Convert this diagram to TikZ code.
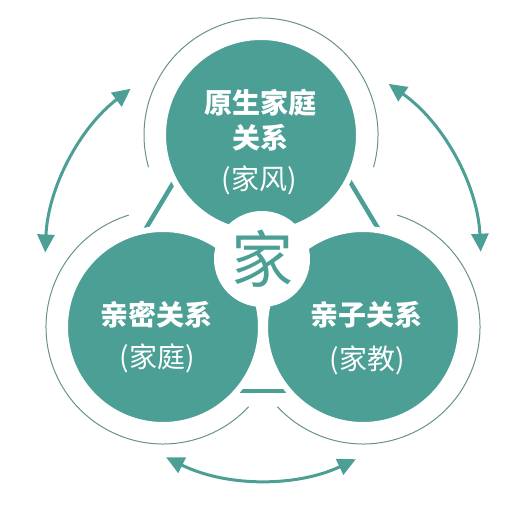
\documentclass[tikz,border=0pt]{standalone}
\usepackage{fontspec}
\newfontfamily\cjk{Noto Sans CJK SC}
\usetikzlibrary{arrows.meta,calc}
\definecolor{tealmain}{RGB}{76,159,149}
\definecolor{thinarc}{RGB}{105,145,140}
\begin{document}
\begin{tikzpicture}[x=1pt,y=1pt,
  disc/.style={circle, fill=tealmain, draw=white, line width=6pt, minimum size=196pt, inner sep=0pt},
  hub/.style={circle, fill=white, minimum size=96pt, inner sep=0pt},
  edge/.style={draw=tealmain, line width=4.5pt},
  halo/.style={draw=thinarc, line width=1pt},
  cyc/.style={draw=tealmain, line width=3pt, {Triangle[length=18pt,width=17pt]}-{Triangle[length=18pt,width=17pt]}},
  title/.style={text=white, font=\cjk\bfseries\fontsize{28}{30}\selectfont, inner sep=0pt},
  sub/.style={text=white, font=\cjk\fontsize{28}{30}\selectfont, inner sep=0pt},
  hubtext/.style={text=tealmain, font=\cjk\fontsize{62}{64}\selectfont, inner sep=0pt}
]
\useasboundingbox (0,0) rectangle (526,510);
% centres
\coordinate (T) at (261,375);
\coordinate (L) at (163,183);
\coordinate (R) at (363,183);
\coordinate (C) at (263,248);
% triangle edge ends (hidden inside the discs)
\coordinate (eTL) at (199,370);
\coordinate (eLT) at (97,200);
\coordinate (eTR) at (325,370);
\coordinate (eRT) at (427,200);
\coordinate (eLR) at (150,119);
\coordinate (eRL) at (374,119);
\draw[edge] (eTL) -- (eLT);
\draw[edge] (eTR) -- (eRT);
\draw[edge] (eLR) -- (eRL);
% thin halos
\draw[halo] ($(T)+(-16:117)$) arc[start angle=-16, end angle=196, radius=117];
\draw[halo] ($(L)+(107:117)$) arc[start angle=107, end angle=317, radius=117];
\draw[halo] ($(R)+(73:117)$) arc[start angle=73, end angle=-137, radius=117];
% double arrows
\coordinate (a1) at ($(C)+(127.4:218)$);
\coordinate (a2) at ($(C)+(54.8:218)$);
\coordinate (a3) at ($(C)+(-64.8:218)$);
\draw[cyc] (a1) arc[start angle=127.4, end angle=177.5, radius=218];
\draw[cyc] (a2) arc[start angle=54.8, end angle=2.7, radius=218];
\draw[cyc] (a3) arc[start angle=-64.8, end angle=-116.4, radius=218];
% discs
\node[disc] (top) at (T) {};
\node[disc] (left) at (L) {};
\node[disc] (right) at (R) {};
\node[hub] (hub) at (262,251) {};
% texts
\node[title] (t1) at (260,407) {原生家庭};
\node[title] (t2) at (260,372) {关系};
\node[sub] (t3) at (259,330) {(家风)};
\node[title] (l1) at (156,195) {亲密关系};
\node[sub] (l2) at (157,152) {(家庭)};
\node[title] (r1) at (366,195) {亲子关系};
\node[sub] (r2) at (367,150) {(家教)};
\node[hubtext] (h) at (262,251) {家};
\end{tikzpicture}
\end{document}
